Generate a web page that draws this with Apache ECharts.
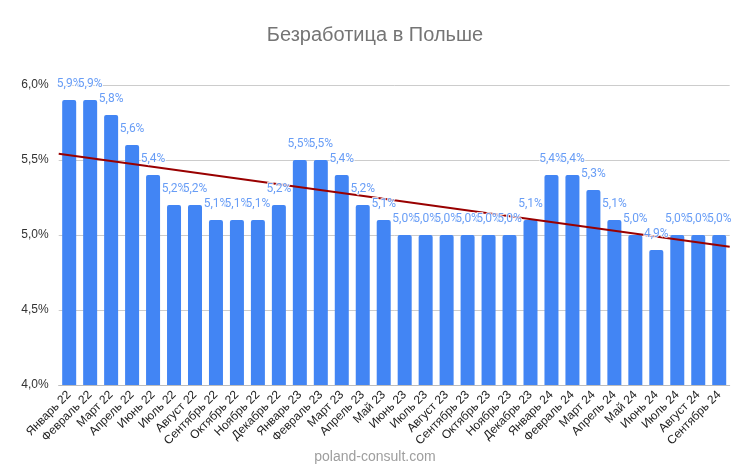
<!DOCTYPE html>
<html>
<head>
<meta charset="utf-8">
<script src="https://cdn.jsdelivr.net/npm/echarts@6/dist/echarts.min.js"></script>
<style>
  html, body { margin: 0; padding: 0; background: #fff; }
  #chart { width: 750px; height: 467px; }
</style>
</head>
<body>
<div id="chart"></div>
<script>
// months (May 22 is absent in the source chart)
const months = [
  'Январь 22', 'Февраль 22', 'Март 22', 'Апрель 22', 'Июнь 22', 'Июль 22',
  'Август 22', 'Сентябрь 22', 'Октябрь 22', 'Ноябрь 22', 'Декабрь 22',
  'Январь 23', 'Февраль 23', 'Март 23', 'Апрель 23', 'Май 23', 'Июнь 23',
  'Июль 23', 'Август 23', 'Сентябрь 23', 'Октябрь 23', 'Ноябрь 23', 'Декабрь 23',
  'Январь 24', 'Февраль 24', 'Март 24', 'Апрель 24', 'Май 24', 'Июнь 24',
  'Июль 24', 'Август 24', 'Сентябрь 24'
];
// unemployment rate, %
const rate = [
  5.9, 5.9, 5.8, 5.6, 5.4, 5.2, 5.2, 5.1, 5.1, 5.1, 5.2,
  5.5, 5.5, 5.4, 5.2, 5.1, 5.0, 5.0, 5.0, 5.0, 5.0, 5.0, 5.1,
  5.4, 5.4, 5.3, 5.1, 5.0, 4.9, 5.0, 5.0, 5.0
];
const yTicks = [4.0, 4.5, 5.0, 5.5, 6.0];

const fmt = v => v.toFixed(1).replace('.', ',') + '%';

// linear trendline (least squares over the bars)
const n = rate.length;
const mx = (n - 1) / 2;
const my = rate.reduce((a, b) => a + b, 0) / n;
let sxy = 0, sxx = 0;
rate.forEach((y, i) => { sxy += (i - mx) * (y - my); sxx += (i - mx) * (i - mx); });
const slope = sxy / sxx;
const trendAt = x => my + slope * (x - mx);
const trend = [[-0.5, trendAt(-0.5)], [n - 0.5, trendAt(n - 0.5)]];

const font = 'Arial, "Liberation Sans", sans-serif';
const chart = echarts.init(document.getElementById('chart'));
chart.setOption({
  animation: false,
  textStyle: { fontFamily: font },
  title: {
    text: 'Безработица в Польше',
    left: 'center',
    top: 20,
    textStyle: { fontSize: 20, fontWeight: 'normal', color: '#757575', fontFamily: font }
  },
  graphic: [{
    type: 'text',
    left: 'center',
    top: 450,
    style: { text: 'poland-consult.com', fontSize: 14, fill: '#9e9e9e', fontFamily: font }
  }],
  grid: { left: 58.7, right: 20.3, top: 85, bottom: 82, containLabel: false },
  xAxis: [{
    type: 'category',
    data: months,
    axisTick: { show: false },
    axisLine: { lineStyle: { color: '#bdbdbd' } },
    axisLabel: { rotate: 45, interval: 0, fontSize: 12, color: '#222', margin: 8, fontFamily: font }
  }, {
    type: 'value',
    min: -0.5,
    max: n - 0.5,
    show: false
  }],
  yAxis: {
    type: 'value',
    min: yTicks[0],
    max: yTicks[yTicks.length - 1],
    interval: 0.5,
    axisLine: { show: false },
    axisTick: { show: false },
    splitLine: { lineStyle: { color: '#cccccc' } },
    axisLabel: { formatter: v => fmt(v), fontSize: 12, color: '#333', margin: 10, fontFamily: font }
  },
  series: [{
    type: 'bar',
    data: rate,
    barWidth: 14,
    z: 2,
    itemStyle: { color: '#4285f4', borderRadius: [2, 2, 0, 0] }
  }, {
    type: 'line',
    xAxisIndex: 1,
    data: trend,
    symbol: 'none',
    z: 3,
    lineStyle: { color: '#990000', width: 2 }
  }, {
    type: 'scatter',
    data: rate,
    symbolSize: 1,
    z: 4,
    itemStyle: { color: 'rgba(0,0,0,0)' },
    label: {
      show: true,
      position: 'top',
      distance: 10,
      formatter: p => fmt(p.value),
      fontSize: 12,
      color: '#4285f4',
      textBorderColor: '#fff',
      textBorderWidth: 2,
      fontFamily: 'Roboto, Arial, sans-serif'
    }
  }]
});
</script>
</body>
</html>
